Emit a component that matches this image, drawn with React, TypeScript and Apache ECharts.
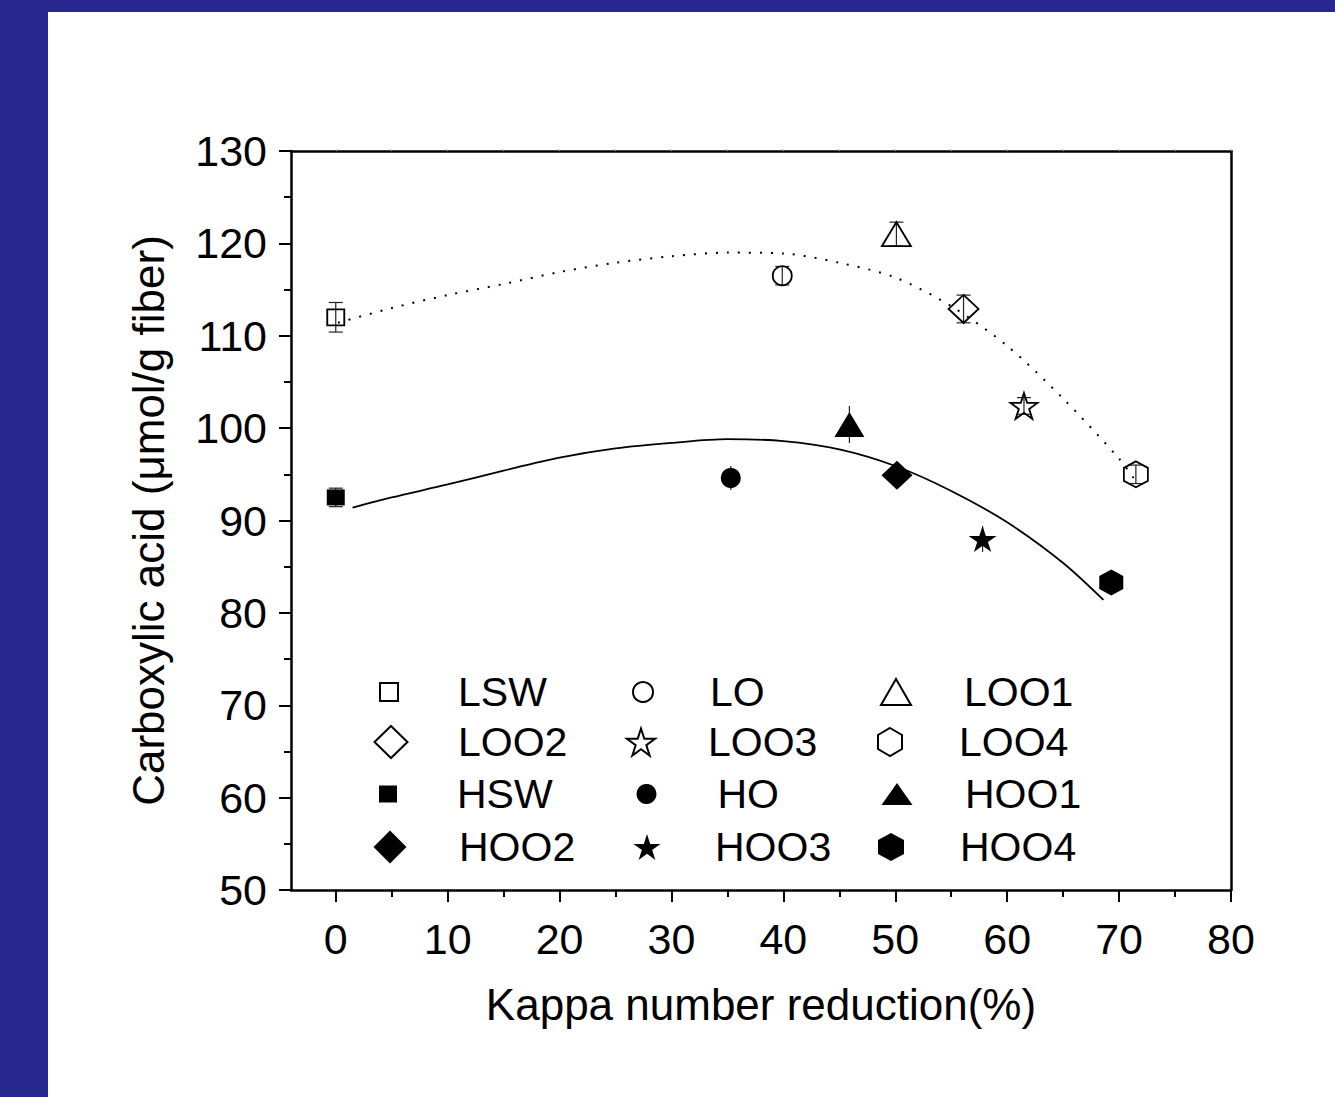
import React, { useEffect, useRef } from "react";
import * as echarts from "echarts";

// ---- data ----
const seriesNames = ["LSW", "LO", "LOO1", "LOO2", "LOO3", "LOO4", "HSW", "HO", "HOO1", "HOO2", "HOO3", "HOO4"];
const kappaReduction = [0, 39.9, 50.1, 56.1, 61.5, 71.5, 0, 35.3, 45.9, 50.15, 57.8, 69.3];
const carboxylicAcid = [112.0, 116.5, 121.0, 112.9, 102.4, 95.0, 92.5, 94.6, 100.4, 94.9, 88.0, 83.3];
const errorBars = [1.6, 1.0, 1.3, 1.5, 0.9, 1.0, 1.0, 1.3, 2.0, 0.8, 1.4, 0.8];

// fitted curves
const lFitX = [0.2, 5, 10, 15, 20, 25, 30, 35, 40, 45, 50, 55, 60, 65, 70, 71.3];
const lFitY = [111.4, 113.0, 114.4, 115.6, 116.9, 117.9, 118.6, 119.0, 118.9, 117.9, 116.3, 113.2, 108.9, 103.2, 96.7, 94.6];
const hFitX = [1.5, 5, 10, 15, 20, 25, 30, 35, 40, 45, 50, 55, 60, 65, 68.6];
const hFitY = [91.4, 92.5, 93.9, 95.4, 96.8, 97.8, 98.4, 98.8, 98.6, 97.7, 95.9, 93.2, 89.8, 85.4, 81.4];

const xTicks = [0, 10, 20, 30, 40, 50, 60, 70, 80];
const xMinorTicks = [5, 15, 25, 35, 45, 55, 65, 75];
const xTopTicks = [0, 5, 10, 15, 20, 25, 30, 35, 40, 45, 50, 55, 60, 65, 70, 75, 80];

// ---- styling / layout ----
const FONT = "'Liberation Sans', Arial, Helvetica, sans-serif";
const STAR = "path://M0,-1 L0.2245,-0.309 L0.951,-0.309 L0.363,0.118 L0.588,0.809 L0,0.382 L-0.588,0.809 L-0.363,0.118 L-0.951,-0.309 L-0.2245,-0.309 Z";
const HEX = "path://M0,-1 L0.866,-0.5 L0.866,0.5 L0,1 L-0.866,0.5 L-0.866,-0.5 Z";

const markerStyle = [
  { symbol: "rect", size: [17, 16], open: true },
  { symbol: "circle", size: 19, open: true },
  { symbol: "triangle", size: [29, 24], open: true },
  { symbol: "diamond", size: [30, 28], open: true },
  { symbol: STAR, size: [27, 26], open: true },
  { symbol: HEX, size: [24, 26], open: true },
  { symbol: "rect", size: [18, 16], open: false },
  { symbol: "circle", size: 20, open: false },
  { symbol: "triangle", size: [30, 25], open: false },
  { symbol: "diamond", size: [31, 29], open: false },
  { symbol: STAR, size: [28, 26], open: false },
  { symbol: HEX, size: [24, 26], open: false },
];

// legend layout: icon centre, icon size, text start
const legendLayout = [
  { cx: 388, cy: 692, w: 18, h: 18, tx: 457 },
  { cx: 642, cy: 692, w: 20, h: 20, tx: 709 },
  { cx: 895, cy: 692, w: 30, h: 26, tx: 963 },
  { cx: 390, cy: 742, w: 33, h: 32, tx: 457 },
  { cx: 640, cy: 742, w: 28, h: 27, tx: 707 },
  { cx: 889, cy: 742, w: 24, h: 28, tx: 958 },
  { cx: 388, cy: 794, w: 18, h: 17, tx: 457 },
  { cx: 647, cy: 794, w: 21, h: 20, tx: 718 },
  { cx: 897, cy: 794, w: 31, h: 22, tx: 965 },
  { cx: 390, cy: 847, w: 33, h: 33, tx: 459 },
  { cx: 647, cy: 847, w: 27, h: 26, tx: 715 },
  { cx: 891, cy: 847, w: 26, h: 28, tx: 960 },
];

const LEG_FONT = 41;

export default function App() {
  const ref = useRef<HTMLDivElement>(null);

  useEffect(() => {
    if (!ref.current) return;
    const chart = echarts.init(ref.current, undefined, { renderer: "svg" });

    const scatterSeries = seriesNames.map((name, i) => {
      const m = markerStyle[i];
      return {
        name,
        type: "scatter",
        xAxisIndex: 0,
        yAxisIndex: 0,
        data: [[kappaReduction[i], carboxylicAcid[i]]],
        symbol: m.symbol,
        symbolSize: m.size,
        symbolKeepAspect: false,
        z: 5,
        itemStyle: m.open
          ? { color: "rgba(0,0,0,0)", borderColor: "#000", borderWidth: 1.8, opacity: 1 }
          : { color: "#000", borderColor: "#000", borderWidth: 0, opacity: 1 },
        emphasis: { disabled: true },
      };
    });

    const errorSeries = {
      name: "error",
      type: "custom",
      xAxisIndex: 0,
      yAxisIndex: 0,
      z: 3,
      data: kappaReduction.map((x, i) => [x, carboxylicAcid[i], errorBars[i]]),
      encode: { x: 0, y: 1 },
      renderItem: (params: any, api: any) => {
        const x = api.value(0);
        const y = api.value(1);
        const e = api.value(2);
        const top = api.coord([x, y + e]);
        const bot = api.coord([x, y - e]);
        const hw = params.dataIndex < 7 ? 7 : 0;
        const st = { stroke: "#222", lineWidth: 1.2 };
        return {
          type: "group",
          children: [
            { type: "line", shape: { x1: top[0], y1: top[1], x2: bot[0], y2: bot[1] }, style: st },
            { type: "line", shape: { x1: top[0] - hw, y1: top[1], x2: top[0] + hw, y2: top[1] }, style: st },
            { type: "line", shape: { x1: bot[0] - hw, y1: bot[1], x2: bot[0] + hw, y2: bot[1] }, style: st },
          ],
        };
      },
    };

    const fitSeries = [
      {
        name: "L fit",
        type: "line",
        xAxisIndex: 0,
        yAxisIndex: 0,
        data: lFitX.map((x, i) => [x, lFitY[i]]),
        showSymbol: false,
        smooth: 0.3,
        z: 2,
        lineStyle: { color: "#000", width: 2, type: [2, 9] },
        emphasis: { disabled: true },
      },
      {
        name: "H fit",
        type: "line",
        xAxisIndex: 0,
        yAxisIndex: 0,
        data: hFitX.map((x, i) => [x, hFitY[i]]),
        showSymbol: false,
        smooth: 0.3,
        z: 2,
        lineStyle: { color: "#000", width: 1.8, type: "solid" },
        emphasis: { disabled: true },
      },
    ];

    const legends = seriesNames.map((name, i) => {
      const L = legendLayout[i];
      const pad = L.tx - L.cx - L.w / 2 - 5;
      return {
        data: [name],
        selectedMode: false,
        orient: "horizontal",
        padding: 0,
        left: L.cx - L.w / 2,
        top: L.cy - LEG_FONT / 2,
        itemWidth: L.w,
        itemHeight: L.h,
        symbolKeepAspect: false,
        textStyle: {
          fontFamily: FONT,
          fontSize: LEG_FONT,
          lineHeight: LEG_FONT,
          color: "#000",
          padding: [0, 0, 0, pad],
        },
      };
    });

    const option: any = {
      animation: false,
      backgroundColor: "#ffffff",
      textStyle: { fontFamily: FONT },
      graphic: [
        { type: "rect", shape: { x: 0, y: 0, width: 48, height: 1097 }, style: { fill: "#27278f" }, z: 100 },
        { type: "rect", shape: { x: 0, y: 0, width: 1335, height: 12 }, style: { fill: "#27278f" }, z: 100 },
      ],
      grid: { left: 291, top: 151, width: 940, height: 739, containLabel: false },
      legend: legends,
      xAxis: [
        {
          type: "value",
          position: "bottom",
          min: -4,
          max: 80,
          name: "Kappa number reduction(%)",
          nameLocation: "middle",
          nameGap: 92,
          nameTextStyle: { fontFamily: FONT, fontSize: 44, color: "#000" },
          axisLine: { show: true, onZero: false, lineStyle: { color: "#000", width: 2.5 } },
          axisTick: { show: true, customValues: xTicks, length: 12, lineStyle: { color: "#000", width: 2 } },
          axisLabel: { customValues: xTicks, fontFamily: FONT, fontSize: 43, color: "#000", margin: 27 },
          splitLine: { show: false },
        },
        {
          type: "value",
          position: "top",
          min: -4,
          max: 80,
          axisLine: { show: true, onZero: false, lineStyle: { color: "#000", width: 2.5 } },
          axisTick: { show: true, customValues: xTopTicks, length: 2, lineStyle: { color: "#bbb", width: 1 } },
          axisLabel: { show: false },
          splitLine: { show: false },
        },
        {
          type: "value",
          position: "bottom",
          min: -4,
          max: 80,
          axisLine: { show: false, onZero: false },
          axisTick: { show: true, customValues: xMinorTicks, length: 7, lineStyle: { color: "#000", width: 2 } },
          axisLabel: { show: false },
          splitLine: { show: false },
        },
      ],
      yAxis: [
        {
          type: "value",
          position: "left",
          min: 50,
          max: 130,
          interval: 10,
          name: "Carboxylic acid (\u03bcmol/g fiber)",
          nameLocation: "middle",
          nameGap: 121,
          nameTextStyle: { fontFamily: FONT, fontSize: 44, color: "#000" },
          axisLine: { show: true, onZero: false, lineStyle: { color: "#000", width: 2.5 } },
          axisTick: { show: true, length: 12, lineStyle: { color: "#000", width: 2 } },
          minorTick: { show: true, splitNumber: 2, length: 7, lineStyle: { color: "#000", width: 2 } },
          axisLabel: { fontFamily: FONT, fontSize: 43, color: "#000", margin: 24 },
          splitLine: { show: false },
        },
        {
          type: "value",
          position: "right",
          min: 50,
          max: 130,
          interval: 10,
          axisLine: { show: true, onZero: false, lineStyle: { color: "#000", width: 2.5 } },
          axisTick: { show: false },
          axisLabel: { show: false },
          splitLine: { show: false },
        },
      ],
      series: [...fitSeries, errorSeries, ...scatterSeries],
    };

    chart.setOption(option);
    return () => chart.dispose();
  }, []);

  return (
    <div
      ref={ref}
      style={{ position: "absolute", left: 0, top: 0, width: 1335, height: 1097 }}
    />
  );
}
